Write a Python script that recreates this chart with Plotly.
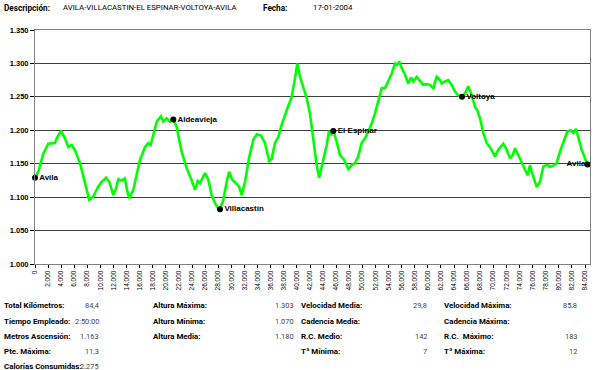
import plotly.graph_objects as go

# ---- data ----
dist_km = [0.0, 0.50, 1.27, 2.03, 3.05, 3.41, 3.97, 4.58, 5.09, 5.60, 6.11, 6.87, 7.64, 8.29, 8.90,
           9.67, 10.19, 10.84, 11.35, 11.96, 12.37, 12.72, 13.24, 13.74, 14.00, 14.40, 15.01, 15.53,
           16.04, 16.80, 17.30, 17.67, 18.17, 18.59, 19.24, 19.59, 20.11, 20.62, 21.12, 21.64, 21.88,
           22.40, 23.17, 23.82, 24.43, 24.84, 25.20, 25.96, 26.47, 26.98, 27.49, 28.10, 28.25, 28.76,
           29.28, 29.63, 30.13, 30.65, 31.15, 31.57, 32.07, 32.68, 33.34, 33.86, 34.51, 35.12, 35.78,
           36.14, 36.65, 37.16, 37.67, 38.44, 39.20, 39.71, 40.06, 40.47, 40.97, 41.49, 41.99, 42.50,
           43.02, 43.40, 43.98, 44.55, 44.90, 45.21, 45.56, 46.07, 46.58, 47.19, 47.85, 48.36, 48.87,
           49.37, 49.89, 50.40, 50.90, 51.42, 51.92, 52.43, 52.69, 52.95, 53.45, 53.95, 54.48, 54.98,
           55.33, 55.63, 56.00, 56.51, 57.01, 57.43, 57.78, 58.29, 58.80, 59.30, 59.82, 60.32, 60.83,
           61.34, 61.85, 62.11, 62.61, 63.12, 63.63, 64.14, 64.65, 65.21, 65.67, 66.17, 66.69, 67.20,
           67.55, 67.96, 68.46, 68.98, 69.59, 70.25, 70.75, 71.52, 72.04, 72.54, 72.95, 73.30, 73.81,
           74.33, 74.83, 75.24, 75.60, 75.86, 76.21, 76.62, 77.12, 77.63, 78.24, 78.65, 79.16, 79.67,
           80.17, 80.79, 81.29, 81.81, 82.21, 82.62, 82.97, 83.48, 83.99, 84.40]
elev_m = [1129, 1138, 1165, 1180, 1181, 1190, 1199, 1188, 1175, 1178, 1170, 1151, 1121, 1096, 1101,
          1116, 1123, 1129, 1123, 1103, 1113, 1127, 1125, 1128, 1113, 1098, 1111, 1136,
          1156, 1175, 1181, 1178, 1198, 1213, 1221, 1213, 1218, 1213, 1216, 1205, 1193,
          1168, 1143, 1128, 1111, 1124, 1121, 1136, 1126, 1103, 1091, 1081, 1082, 1096,
          1123, 1138, 1126, 1121, 1116, 1103, 1123, 1158, 1186, 1194, 1192, 1181, 1154,
          1157, 1181, 1190, 1208, 1230, 1250, 1278, 1300, 1280, 1263, 1248, 1225, 1186,
          1148, 1129, 1152, 1178, 1199, 1193, 1199, 1183, 1163, 1156, 1142, 1148, 1151,
          1161, 1181, 1188, 1198, 1210, 1225, 1243, 1255, 1263, 1263, 1273, 1285, 1300,
          1298, 1303, 1293, 1283, 1270, 1279, 1273, 1280, 1273, 1268, 1269, 1268, 1263,
          1280, 1275, 1270, 1273, 1275, 1268, 1258, 1252, 1250, 1255, 1266, 1253, 1235,
          1230, 1218, 1196, 1181, 1173, 1161, 1171, 1180, 1171, 1158, 1163, 1173, 1163,
          1153, 1141, 1133, 1148, 1138, 1128, 1115, 1123, 1146, 1148, 1145, 1147, 1151,
          1168, 1183, 1198, 1200, 1196, 1202, 1188, 1171, 1158, 1149]

place_names = ["Avila", "Aldeavieja", "Villacastín", "El Espinar", "Voltoya", "Avila"]
place_km = [0.0, 21.12, 28.25, 45.56, 65.21, 84.40]
place_elev = [1129, 1216, 1082, 1199, 1250, 1149]

x_tick_km = list(range(0, 85, 2))
y_ticks = [1000, 1050, 1100, 1150, 1200, 1250, 1300, 1350]

descripcion = "AVILA-VILLACASTIN-EL ESPINAR-VOLTOYA-AVILA"
fecha = "17-01-2004"

col1_labels = ["Total Kilómetros:", "Tiempo Empleado:", "Metros Ascensión:", "Pte. Máxima:", "Calorías Consumidas:"]
col1_values = ["84,4", "2:50:00", "1.163", "11,3", "2.275"]
col2_labels = ["Altura Máxima:", "Altura Mínima:", "Altura Media:"]
col2_values = ["1.303", "1.070", "1.180"]
col3_labels = ["Velocidad Media:", "Cadencia Media:", "R.C. Medio:", "Tª Mínima:"]
col3_values = ["29,8", "-", "142", "7"]
col4_labels = ["Velocidad Máxima:", "Cadencia Máxima:", "R.C.  Máximo:", "Tª Máxima:"]
col4_values = ["85,8", "-", "183", "12"]

# ---- figure ----
W, H = 600, 370
L, R, T, B = 35, 10, 30, 106
FONT = "Liberation Sans, Arial, sans-serif"
TXT = "Roboto, Liberation Sans, sans-serif"

def px_x(px):
    return (px - L) / (W - L - R)

def px_y(py):
    return (H - B - py) / (H - T - B)

dist_m = [d * 1000 for d in dist_km]
fig = go.Figure()
fig.add_trace(go.Scatter(x=dist_m, y=elev_m, mode="lines",
                         line=dict(color="#00ff00", width=2.6), hoverinfo="skip"))
fig.add_trace(go.Scatter(x=[k * 1000 for k in place_km[:-1]], y=place_elev[:-1], mode="text",
                         text=["  " + n for n in place_names[:-1]], textposition="middle right",
                         textfont=dict(family=FONT, size=8, color="#000", weight="bold"),
                         cliponaxis=False, hoverinfo="skip"))
fig.add_trace(go.Scatter(x=[place_km[-1] * 1000], y=[place_elev[-1]], mode="text",
                         text=[place_names[-1] + " "], textposition="middle left",
                         textfont=dict(family=FONT, size=8, color="#000", weight="bold"),
                         cliponaxis=False, hoverinfo="skip"))
fig.add_trace(go.Scatter(x=[k * 1000 for k in place_km], y=place_elev, mode="markers",
                         marker=dict(color="#000", size=6), cliponaxis=False, hoverinfo="skip"))

fig.update_layout(
    width=W, height=H, margin=dict(l=L, r=R, t=T, b=B, autoexpand=False),
    paper_bgcolor="white", plot_bgcolor="white", showlegend=False,
    separators=",.", template="none",
    font=dict(family=FONT, size=8, color="#000"),
)
fig.update_xaxes(range=[0, 84760], tickvals=[k * 1000 for k in x_tick_km], tickformat=",d",
                 tickangle=-90, tickfont=dict(family=FONT, size=6.5, color="#000"),
                 showgrid=False, zeroline=False, showline=True, linecolor="#808080", linewidth=1,
                 mirror=True, ticks="outside", ticklen=3, tickcolor="#000", automargin=False)
fig.update_yaxes(range=[1000, 1350], tickvals=y_ticks, tickformat=",d",
                 tickfont=dict(family=FONT, size=7.5, color="#000", weight="bold"),
                 showgrid=True, gridcolor="#404040", gridwidth=1.3, zeroline=False,
                 showline=True, linecolor="#808080", linewidth=1, mirror=True,
                 ticks="outside", ticklen=4, tickcolor="#000", automargin=False)

ann = []
def txt(px, py, s, bold=False, anchor="left", color="#000", size=7.9):
    ann.append(dict(xref="paper", yref="paper", x=px_x(px), y=px_y(py), text=s, showarrow=False,
                    xanchor=anchor, yanchor="middle",
                    font=dict(family=TXT, size=size, color=color, weight="bold" if bold else "normal")))

txt(2, 8, "Descripción:", bold=True, size=8.2)
txt(61, 8, descripcion, size=7.8)
txt(261, 8, "Fecha:", bold=True, size=8.2)
txt(311, 8, fecha, size=7.8)

rows_py = [305, 321, 336, 351, 366]
cols = [(2, 101, col1_labels, col1_values), (151, 296, col2_labels, col2_values),
        (299, 429, col3_labels, col3_values), (442, 579, col4_labels, col4_values)]
for lx, vx, labs, vals in cols:
    for i, (lab, val) in enumerate(zip(labs, vals)):
        txt(lx, rows_py[i], lab, bold=True)
        txt(vx, rows_py[i], val, anchor="right", color="#dddddd" if val == "-" else "#444", size=7.4)

fig.update_layout(annotations=ann)
fig.write_html("out.html", config={"displayModeBar": False},
               post_script="document.body.style.margin='0';document.body.style.overflow='hidden';")
